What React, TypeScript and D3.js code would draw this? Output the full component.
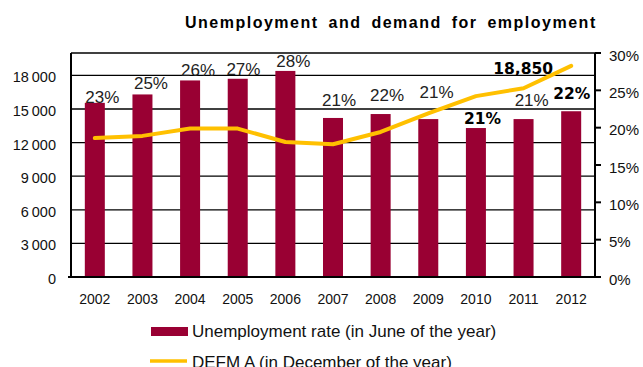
import React from "react";
import * as d3 from "d3";

// ---------- data ----------
const years = ["2002", "2003", "2004", "2005", "2006", "2007", "2008", "2009", "2010", "2011", "2012"];
const unemployed = [15550, 16300, 17550, 17700, 18400, 14200, 14550, 14100, 13300, 14100, 14800];
const rateLabels = ["23%", "25%", "26%", "27%", "28%", "21%", "22%", "21%", "21%", "21%", "22%"];
const defmA = [12400, 12600, 13250, 13250, 12050, 11850, 12950, 14600, 16150, 16850, 18850];
const leftTicks = [0, 3000, 6000, 9000, 12000, 15000, 18000];
const rightTicks = [0, 5, 10, 15, 20, 25, 30];
const boldRateYears = ["2010", "2012"];
const lastDefmLabel = "18,850";
const title = "Unemployment and demand for employment";
const legendBars = "Unemployment rate (in June of the year)";
const legendLine = "DEFM A (in December of the year)";

// ---------- layout ----------
const W = 643;
const H = 367;
const M = { left: 71, right: 595, top: 53, bottom: 277 };
// label nudges relative to bar centre / bar top (dx, dy of baseline)
const labelNudge: [number, number][] = [
  [7.5, 0.5], [8.5, -5], [8, -4.6], [5.7, -3.3], [8, -4], [6, -12],
  [6.5, -13], [8.3, -21], [6.7, -4], [8.1, -13.3], [0.5, -12.7],
];

const BAR = "#990033";
const LINE = "#FFC000";
const FONT = "'Liberation Sans', Arial, sans-serif";
const BOLD_FONT = "'DejaVu Sans', Verdana, sans-serif";

export default function App() {
  const x = d3
    .scaleBand<string>()
    .domain(years)
    .range([M.left, M.right])
    .paddingInner(0.58)
    .paddingOuter(0.29);
  const yL = d3.scaleLinear().domain([0, 20000]).range([M.bottom, M.top]);
  const yR = d3.scaleLinear().domain([0, 30]).range([M.bottom, M.top]);
  const cx = (yr: string) => (x(yr) as number) + x.bandwidth() / 2;

  const line = d3
    .line<number>()
    .x((_, i) => cx(years[i]))
    .y((d) => yL(d));

  const fmtLeft = (v: number) =>
    v >= 1000 ? `${Math.floor(v / 1000)}\u2009${String(v % 1000).padStart(3, "0")}` : String(v);

  const lastI = defmA.length - 1;

  return (
    <svg
      width={W}
      height={H}
      style={{ position: "absolute", left: 0, top: 0, background: "#fff" }}
    >
      <rect x={0} y={0} width={W} height={H} fill="#fff" />
      {/* title */}
      <text
        x={185}
        y={28}
        fontFamily={FONT}
        fontWeight="bold"
        fontSize={16}
        letterSpacing={1.5}
        wordSpacing={4}
        fill="#000"
      >
        {title}
      </text>

      {/* gridlines */}
      {leftTicks
        .filter((t) => t > 0)
        .map((t) => (
          <line key={t} x1={M.left} x2={M.right} y1={yL(t)} y2={yL(t)} stroke="#000" strokeWidth={1.3} />
        ))}
      <line x1={M.left} x2={M.right} y1={M.top} y2={M.top} stroke="#000" strokeWidth={1.3} />

      {/* bars */}
      {years.map((yr, i) => (
        <rect
          key={yr}
          x={x(yr)}
          y={yL(unemployed[i])}
          width={x.bandwidth()}
          height={M.bottom - yL(unemployed[i])}
          fill={BAR}
        />
      ))}

      {/* axes */}
      <line x1={M.left} x2={M.left} y1={M.top} y2={M.bottom} stroke="#000" strokeWidth={2} />
      <line x1={M.right} x2={M.right} y1={M.top} y2={M.bottom} stroke="#000" strokeWidth={2} />
      <line x1={M.left - 3} x2={M.right} y1={M.bottom} y2={M.bottom} stroke="#000" strokeWidth={2} />

      {/* left tick labels */}
      {leftTicks.map((t) => (
        <text
          key={t}
          x={56}
          y={yL(t) + 7}
          textAnchor="end"
          fontFamily={FONT}
          fontSize={14.5}
          fill="#111"
        >
          {fmtLeft(t)}
        </text>
      ))}

      {/* right ticks */}
      {rightTicks.map((t) => (
        <g key={t}>
          <line x1={M.right} x2={M.right + 6} y1={yR(t)} y2={yR(t)} stroke="#000" strokeWidth={2} />
          <text x={609} y={yR(t) + 7.5} fontFamily={FONT} fontSize={15} fill="#111">
            {`${t}%`}
          </text>
        </g>
      ))}

      {/* x labels */}
      {years.map((yr) => (
        <text key={yr} x={cx(yr)} y={304} textAnchor="middle" fontFamily={FONT} fontSize={14} fill="#111">
          {yr}
        </text>
      ))}

      {/* DEFM A line */}
      <path
        d={line(defmA) || ""}
        fill="none"
        stroke={LINE}
        strokeWidth={4}
        strokeLinejoin="round"
        strokeLinecap="round"
      />

      {/* rate labels */}
      {years.map((yr, i) => {
        const bold = boldRateYears.includes(yr);
        return (
          <text
            key={yr}
            x={cx(yr) + labelNudge[i][0]}
            y={yL(unemployed[i]) + labelNudge[i][1]}
            textAnchor="middle"
            fontFamily={bold ? BOLD_FONT : FONT}
            fontWeight={bold ? "bold" : "normal"}
            fontSize={bold ? 15.5 : 17}
            fill={bold ? "#000" : "#222"}
          >
            {rateLabels[i]}
          </text>
        );
      })}

      {/* last DEFM value label */}
      <text
        x={cx(years[lastI]) - 48}
        y={yL(defmA[lastI]) + 8.5}
        textAnchor="middle"
        fontFamily={BOLD_FONT}
        fontWeight="bold"
        fontSize={15.5}
        fill="#000"
      >
        {lastDefmLabel}
      </text>

      {/* legend */}
      <rect x={151} y={327} width={37} height={9} fill={BAR} />
      <text x={192} y={337} fontFamily={FONT} fontSize={17} fill="#111">
        {legendBars}
      </text>
      <line x1={150} x2={187} y1={361} y2={361} stroke={LINE} strokeWidth={3.5} />
      <text x={192} y={368} fontFamily={FONT} fontSize={17} fill="#111">
        {legendLine}
      </text>
    </svg>
  );
}
